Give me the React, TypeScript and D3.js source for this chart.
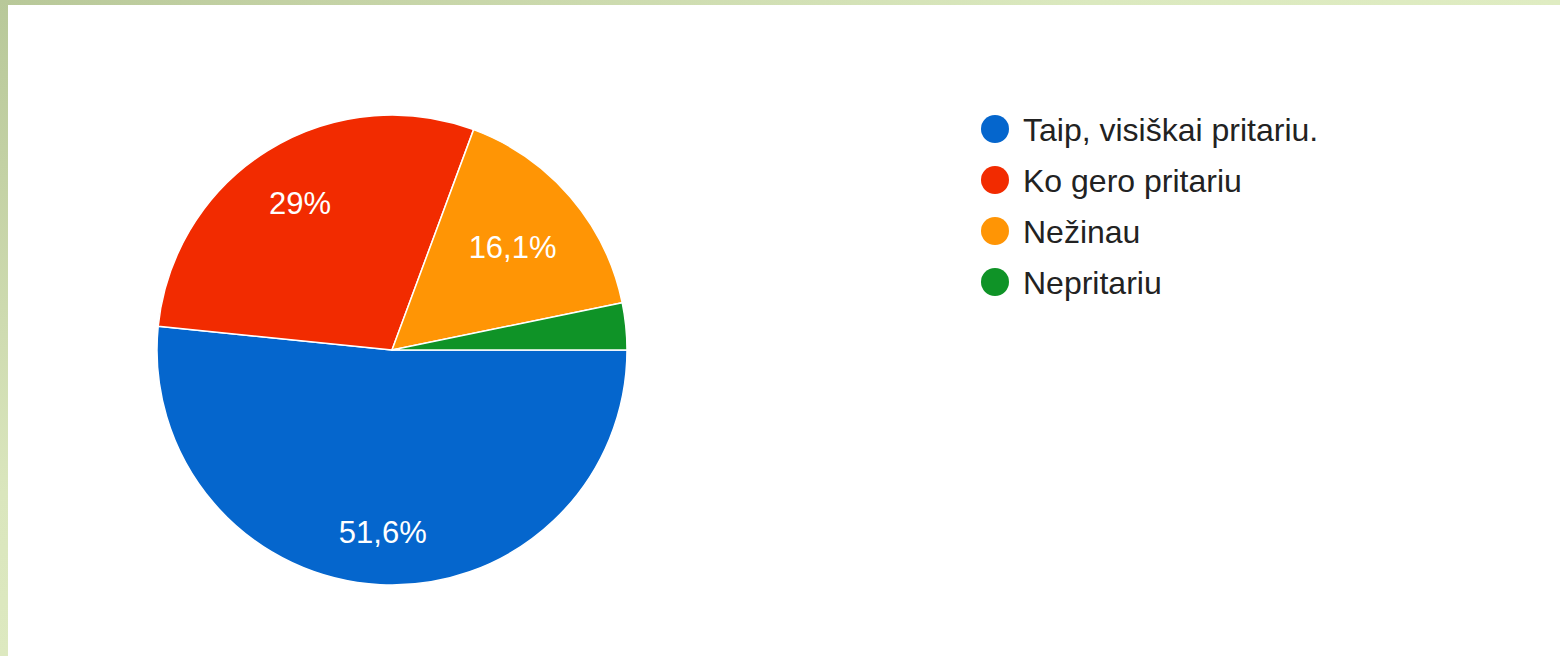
// Pie chart of survey answers, Google Forms style.

import * as d3 from "d3";

const categories = [
  "Taip, visiškai pritariu.",
  "Ko gero pritariu",
  "Nežinau",
  "Nepritariu",
];
const counts = [16, 9, 5, 1];
const colors = ["#0566cd", "#f22b00", "#ff9505", "#0f9327"];

const W = 1560;
const H = 656;
const cx = 392;
const cy = 350;
const radius = 235;
const fontSize = 31;
const legendFontSize = 32;
const font = "'Liberation Sans', Arial, sans-serif";

let ctx: CanvasRenderingContext2D | null = null;
function textWidth(s: string) {
  if (!ctx) ctx = document.createElement("canvas").getContext("2d");
  if (!ctx) return s.length * fontSize * 0.55;
  ctx.font = `${fontSize}px ${font}`;
  return ctx.measureText(s).width;
}

// push the label box outward until its farthest corner hits the label ring
function labelPos(angle: number, w: number, h: number, ring: number) {
  const ux = Math.sin(angle);
  const uy = -Math.cos(angle);
  let rho = 0;
  for (let r = ring; r > 0; r -= 0.5) {
    const x = r * ux;
    const y = r * uy;
    const far = Math.max(
      Math.hypot(x - w / 2, y - h / 2),
      Math.hypot(x + w / 2, y - h / 2),
      Math.hypot(x - w / 2, y + h / 2),
      Math.hypot(x + w / 2, y + h / 2),
    );
    if (far <= ring) {
      rho = r;
      break;
    }
  }
  return [rho * ux, rho * uy];
}

const fmt = (v: number) => `${d3.format(".3~r")(v)}%`.replace(".", ",");

export default function App() {
  const total = d3.sum(counts);
  const pie = d3
    .pie<number>()
    .sort(null)
    .startAngle(Math.PI / 2)
    .endAngle(Math.PI / 2 + 2 * Math.PI);
  const arcs = pie(counts);
  const arc = d3.arc<d3.PieArcDatum<number>>().innerRadius(0).outerRadius(radius);

  const legendY = d3.scalePoint(d3.range(categories.length), [129, 282]);

  return (
    <div style={{ position: "fixed", left: 0, top: 0 }}>
      <svg width={W} height={H} style={{ display: "block" }}>
        <defs>
          <linearGradient id="topStrip" x1="0" y1="0" x2="1" y2="0">
            <stop offset="0" stopColor="#b8c899" />
            <stop offset="0.2" stopColor="#c4d2a5" />
            <stop offset="0.7" stopColor="#dbe9bf" />
            <stop offset="1" stopColor="#dfecc2" />
          </linearGradient>
          <linearGradient id="leftStrip" x1="0" y1="0" x2="0" y2="1">
            <stop offset="0" stopColor="#b8c899" />
            <stop offset="0.25" stopColor="#c3d1a4" />
            <stop offset="0.75" stopColor="#dae6bd" />
            <stop offset="1" stopColor="#dde9c0" />
          </linearGradient>
        </defs>
        <rect x={0} y={0} width={W} height={H} fill="#fff" />
        <rect x={0} y={0} width={W} height={5} fill="url(#topStrip)" />
        <rect x={0} y={0} width={8} height={H} fill="url(#leftStrip)" />

        <g transform={`translate(${cx},${cy})`}>
          {arcs.map((a, i) => (
            <path
              key={i}
              d={arc(a) || ""}
              fill={colors[i]}
              stroke="#fff"
              strokeWidth={1.5}
              strokeLinejoin="round"
            />
          ))}
          {arcs.map((a, i) => {
            const pct = (a.data / total) * 100;
            if (pct < 5) return null;
            const label = fmt(pct);
            const w = textWidth(label);
            const [x, y] = labelPos(
              (a.startAngle + a.endAngle) / 2,
              w,
              fontSize * 0.72,
              radius * 0.855,
            );
            return (
              <text
                key={i}
                x={x}
                y={y}
                dy="0.36em"
                textAnchor="middle"
                fill="#fff"
                fontFamily={font}
                fontSize={fontSize}
              >
                {label}
              </text>
            );
          })}
        </g>

        <g fontFamily={font} fontSize={legendFontSize} fill="#222">
          {categories.map((c, i) => (
            <g key={c} transform={`translate(995,${legendY(i)})`}>
              <circle r={14} fill={colors[i]} />
              <text x={28} dy="0.36em">
                {c}
              </text>
            </g>
          ))}
        </g>
      </svg>
    </div>
  );
}
